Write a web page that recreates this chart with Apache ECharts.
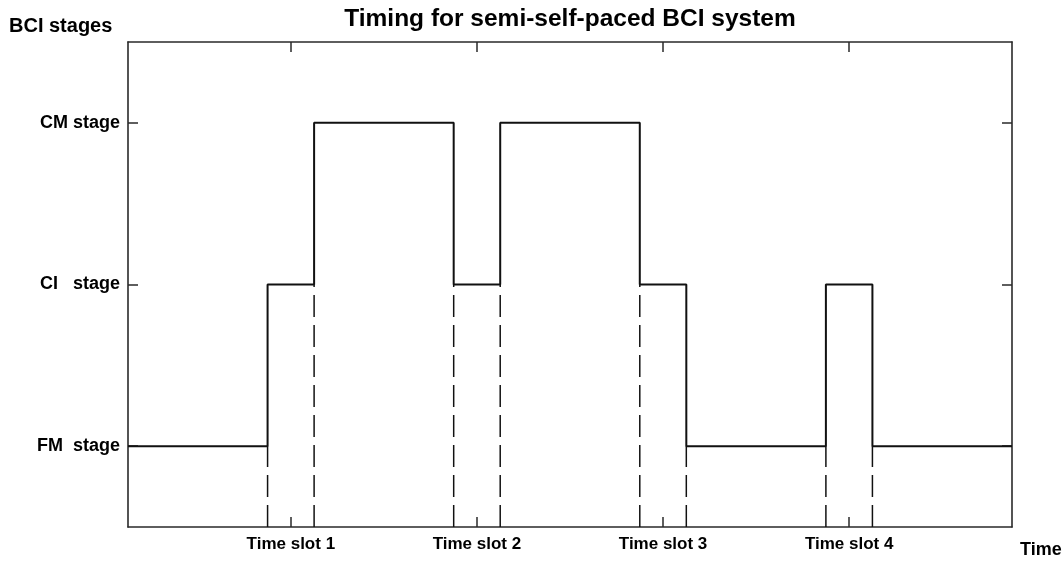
<!DOCTYPE html>
<html>
<head>
<meta charset="utf-8">
<title>Timing for semi-self-paced BCI system</title>
<script src="https://cdn.jsdelivr.net/npm/echarts@6/dist/echarts.min.js"></script>
<style>
  html, body { margin: 0; padding: 0; background: #fff; }
  #chart { width: 1063px; height: 561px; }
</style>
</head>
<body>
<div id="chart"></div>
<script>
// stage levels: 1 = FM, 2 = CI, 3 = CM
const stageNames = ['FM  stage', 'CI   stage', 'CM stage'];
const stageValues = [1, 2, 3];
// time where each stage starts, and the stage held from there
const changeTimes = [0, 3, 4, 7, 8, 11, 12, 15, 16];
const stageLevels = [1, 2, 3, 2, 3, 2, 1, 2, 1];
const endTime = 19;
// time slots (centre of each slot) and their labels
const slotCenters = [3.5, 7.5, 11.5, 15.5];
const slotLabels = ['Time slot 1', 'Time slot 2', 'Time slot 3', 'Time slot 4'];

const yMin = 0.5;
const yMax = 3.5;
const font = '"Liberation Sans", Arial, sans-serif';
const ink = '#111';
const axisInk = '#2a2a2a';

// step line as explicit corner points
const stepData = [];
changeTimes.forEach((t, i) => {
  const next = i + 1 < changeTimes.length ? changeTimes[i + 1] : endTime;
  stepData.push([t, stageLevels[i]]);
  stepData.push([next, stageLevels[i]]);
});

// dashed guides from the bottom up to the lower stage at each change
const dashSeries = changeTimes.slice(1).map((t, k) => {
  const i = k + 1;
  const low = Math.min(stageLevels[i - 1], stageLevels[i]);
  return {
    type: 'line',
    data: [[t, yMin], [t, low]],
    symbol: 'none',
    silent: true,
    lineStyle: { color: ink, width: 1.5, type: [22, 8] },
    z: 1,
  };
});

const tickCommon = { inside: true, length: 10, lineStyle: { color: axisInk, width: 1.5 } };
const lineCommon = { show: true, onZero: false, lineStyle: { color: axisInk, width: 1.6 } };

const option = {
  backgroundColor: '#fff',
  animation: false,
  title: [
    {
      text: 'Timing for semi-self-paced BCI system',
      left: 570, top: 7, textAlign: 'center', padding: 0,
      textStyle: { fontFamily: font, fontSize: 24.5, fontWeight: 'bold', color: '#000' },
    },
    {
      text: 'BCI stages',
      left: 9, top: 16, padding: 0,
      textStyle: { fontFamily: font, fontSize: 20, fontWeight: 'bold', color: '#000' },
    },
    {
      text: 'Time',
      left: 1020, top: 541, padding: 0,
      textStyle: { fontFamily: font, fontSize: 18, fontWeight: 'bold', color: '#000' },
    },
  ],
  grid: { left: 128, right: 51, top: 42, bottom: 34 },
  xAxis: [
    {
      type: 'value', min: 0, max: endTime, position: 'bottom',
      axisLine: lineCommon,
      axisTick: Object.assign({ customValues: slotCenters }, tickCommon),
      axisLabel: {
        customValues: slotCenters,
        margin: 9,
        fontFamily: font, fontSize: 17, fontWeight: 'bold', color: '#000',
        formatter: v => slotLabels[slotCenters.indexOf(v)] || '',
      },
      splitLine: { show: false },
    },
    {
      type: 'value', min: 0, max: endTime, position: 'top',
      axisLine: lineCommon,
      axisTick: Object.assign({ customValues: slotCenters }, tickCommon),
      axisLabel: { show: false },
      splitLine: { show: false },
    },
  ],
  yAxis: [
    {
      type: 'value', min: yMin, max: yMax, position: 'left',
      axisLine: lineCommon,
      axisTick: Object.assign({ customValues: stageValues }, tickCommon),
      axisLabel: {
        customValues: stageValues,
        margin: 8,
        fontFamily: font, fontSize: 18, fontWeight: 'bold', color: '#000',
        formatter: v => stageNames[stageValues.indexOf(v)] || '',
      },
      splitLine: { show: false },
    },
    {
      type: 'value', min: yMin, max: yMax, position: 'right',
      axisLine: lineCommon,
      axisTick: Object.assign({ customValues: stageValues }, tickCommon),
      axisLabel: { show: false },
      splitLine: { show: false },
    },
  ],
  series: [
    {
      type: 'line',
      data: stepData,
      symbol: 'none',
      silent: true,
      lineStyle: { color: ink, width: 2 },
      z: 3,
    },
  ].concat(dashSeries),
};

const chart = echarts.init(document.getElementById('chart'), null, { renderer: 'canvas' });
chart.setOption(option);
</script>
</body>
</html>
